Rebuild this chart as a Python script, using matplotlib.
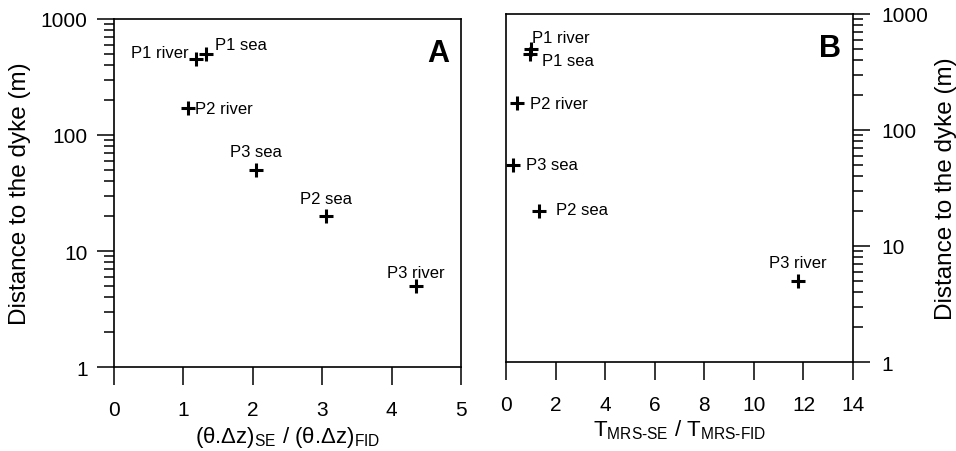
import matplotlib
matplotlib.use("Agg")
import matplotlib.pyplot as plt
from matplotlib.ticker import LogLocator, NullFormatter, FixedLocator, FixedFormatter

plt.rcParams['font.family'] = ['Liberation Sans', 'DejaVu Sans']
plt.rcParams['mathtext.fontset'] = 'custom'
plt.rcParams['mathtext.rm'] = 'Liberation Sans'
plt.rcParams['mathtext.it'] = 'Liberation Sans'
plt.rcParams['mathtext.default'] = 'rm'

# Sampling sites and distance to the dyke (m)
sites = ["P1 river", "P1 sea", "P2 river", "P3 sea", "P2 sea", "P3 river"]
distance = [450, 500, 170, 50, 20, 5]

# Panel A: (theta.dz)_SE / (theta.dz)_FID
ratio_theta = [1.18, 1.32, 1.06, 2.04, 3.06, 4.35]
# Panel B: T_MRS-SE / T_MRS-FID
ratio_t = [0.97, 1.0, 0.46, 0.29, 1.32, 11.77]

# label offsets in pixels (dx, dy) and alignment
offs_a = {
    "P1 river": (-7, 7, "right"),
    "P1 sea": (9, 9, "left"),
    "P2 river": (7, 0, "left"),
    "P3 sea": (0, 18, "center"),
    "P2 sea": (0, 18, "center"),
    "P3 river": (0, 13, "center"),
}
offs_b = {
    "P1 river": (2, 17, "left"),
    "P1 sea": (11, -12, "left"),
    "P2 river": (13, 0, "left"),
    "P3 sea": (13, 0, "left"),
    "P2 sea": (17, 2, "left"),
    "P3 river": (0, 18, "center"),
}

fig = plt.figure(figsize=(9.56, 4.52), dpi=100)
ax_a = fig.add_axes([0.1192, 0.1858, 0.363, 0.770])
ax_b = fig.add_axes([0.5293, 0.1969, 0.363, 0.770])

PX = 0.72  # points per pixel at 100 dpi


def style_log_y(ax, side):
    ax.set_yscale("log")
    ax.set_ylim(1, 1000)
    ax.yaxis.set_major_locator(FixedLocator([1, 10, 100, 1000]))
    ax.yaxis.set_major_formatter(FixedFormatter(["1", "10", "100", "1000"]))
    ax.yaxis.set_minor_locator(LogLocator(base=10, subs=range(2, 10)))
    ax.yaxis.set_minor_formatter(NullFormatter())
    ax.tick_params(axis="y", which="major", direction="out", length=12.5, width=1.1,
                   labelsize=15, pad=6.5 if side == "left" else 8)
    ax.tick_params(axis="y", which="minor", direction="out", length=7, width=1.1)
    if side == "right":
        ax.yaxis.tick_right()
        ax.yaxis.set_label_position("right")
    ax.tick_params(axis="x", which="major", direction="out", length=13, width=1.1,
                   labelsize=15, pad=10.5)
    for s in ax.spines.values():
        s.set_linewidth(1.2)


def draw(ax, xs, offs):
    ax.plot(xs, distance, linestyle="none", marker="+", markersize=10,
            markeredgewidth=2.2, color="black")
    for name, x, y in zip(sites, xs, distance):
        dx, dy, ha = offs[name]
        ax.annotate(name, (x, y), xytext=(dx * PX, dy * PX),
                    textcoords="offset points", ha=ha, va="center",
                    fontsize=12)


# Panel A
style_log_y(ax_a, "left")
ax_a.set_xlim(0, 5)
ax_a.set_xticks(range(0, 6))
draw(ax_a, ratio_theta, offs_a)
ax_a.set_ylabel("Distance to the dyke (m)", fontsize=17.5)
ax_a.yaxis.set_label_coords(-0.239, 0.5)
ax_a.set_xlabel(r"(θ.Δz)$_{\mathrm{SE}}$ / (θ.Δz)$_{\mathrm{FID}}$", fontsize=16)
ax_a.xaxis.set_label_coords(0.5, -0.165)
ax_a.text(0.965, 0.945, "A", transform=ax_a.transAxes, ha="right", va="top",
          fontsize=22, fontweight="bold")

# Panel B
style_log_y(ax_b, "right")
ax_b.set_xlim(0, 14)
ax_b.set_xticks(range(0, 15, 2))
draw(ax_b, ratio_t, offs_b)
ax_b.set_ylabel("Distance to the dyke (m)", fontsize=17.5)
ax_b.yaxis.set_label_coords(1.236, 0.5)
ax_b.set_xlabel(r"T$_{\mathrm{MRS\text{-}SE}}$ / T$_{\mathrm{MRS\text{-}FID}}$",
                fontsize=16)
ax_b.xaxis.set_label_coords(0.5, -0.158)
ax_b.text(0.965, 0.945, "B", transform=ax_b.transAxes, ha="right", va="top",
          fontsize=22, fontweight="bold")

fig.savefig("out.png", dpi=100)
